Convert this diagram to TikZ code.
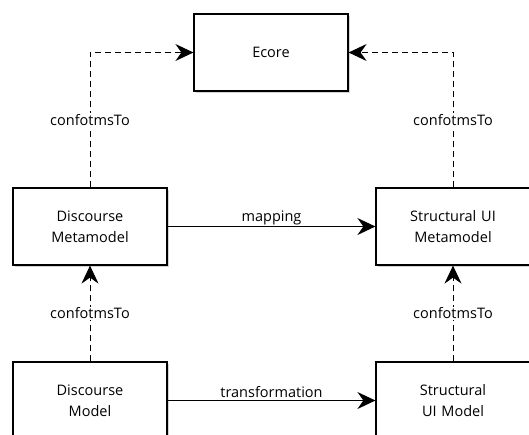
\documentclass[tikz,border=0pt]{standalone}
\usepackage{fontspec}
\setmainfont{Open Sans}
\usetikzlibrary{arrows.meta,shadows}
\tikzstyle{box} = [draw, line width=1.2pt, fill=white, minimum width=154pt, minimum height=77pt, text width=140pt, text centered, drop shadow={shadow xshift=1.5pt, shadow yshift=-1.5pt, opacity=0.35}]
\tikzstyle{conf} = [dash pattern=on 6pt off 4pt, line width=1pt, -{Stealth[length=18pt,width=17pt,inset=6pt]}]
\tikzstyle{flow} = [line width=1pt, -{Stealth[length=18pt,width=17pt,inset=6pt]}]
\tikzstyle{lbl} = [fill=white, inner sep=1pt]

\begin{document}
\begin{tikzpicture}[x=1pt, y=-1pt, font=\fontsize{14.5}{21}\selectfont]
	  \useasboundingbox (0,0) rectangle (529,434);
	  \node (ecore) at (271,52.5) [box] {Ecore};
	  \node (dmm) at (90,226.5) [box] {Discourse\\Metamodel};
	  \node (smm) at (453,226.5) [box] {Structural UI\\Metamodel};
	  \node (dm) at (90,400.5) [box] {Discourse\\Model};
	  \node (sm) at (453,400.5) [box] {Structural\\UI Model};

	  \draw [conf] (dmm.north) |- node [lbl, pos=0.25] {confotmsTo} (ecore.west);
	  \draw [conf] (smm.north) |- node [lbl, pos=0.25] {confotmsTo} (ecore.east);
	  \draw [conf] (dm) to node [lbl] {confotmsTo} (dmm);
	  \draw [conf] (sm) to node [lbl] {confotmsTo} (smm);
	  \draw [flow] (dmm) to node [above, inner sep=1pt] {mapping} (smm);
	  \draw [flow] (dm) to node [above, inner sep=2pt] {transformation} (sm);
\end{tikzpicture}
\end{document}
